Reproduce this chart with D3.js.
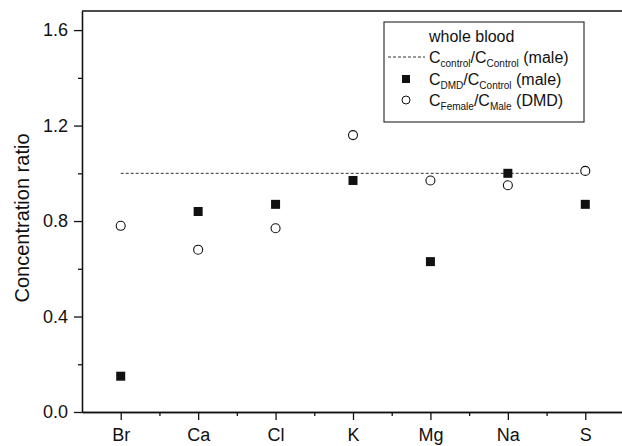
<!DOCTYPE html>
<html>
<head>
<meta charset="utf-8">
<script src="https://d3js.org/d3.v7.min.js"></script>
<style>
  body { margin: 0; background: #fff; }
  text { font-family: "Liberation Sans", Arial, Helvetica, sans-serif; fill: #111; }
</style>
</head>
<body>
<div id="chart"></div>
<script>
let w = 622;
let h = 446;

// data
let elements = ["Br", "Ca", "Cl", "K", "Mg", "Na", "S"];
let dmdVsControl = [0.15, 0.84, 0.87, 0.97, 0.63, 1.00, 0.87];
let femaleVsMale = [0.78, 0.68, 0.77, 1.16, 0.97, 0.95, 1.01];
let controlLevel = 1.0;
let yMajor = [0, 0.4, 0.8, 1.2, 1.6];
let yMinor = [0.2, 0.6, 1.0, 1.4];

let svg = d3.select("#chart")
  .append("svg")
  .attr("width", w)
  .attr("height", h);

let xScale = d3.scaleLinear().domain([0.5, 7.5]).range([82, 624]);
let yScale = d3.scaleLinear().domain([0, 1.68]).range([412, 11]);

let tickFont = "18px";

// y axis
let yAxis = d3.axisLeft(yScale)
  .tickValues(yMajor)
  .tickFormat(d3.format(".1f"))
  .tickSize(8)
  .tickSizeOuter(0)
  .tickPadding(6);
let yG = svg.append("g").attr("transform", "translate(82,0)").call(yAxis);
yG.selectAll("text").style("font-size", tickFont);

let yMinorAxis = d3.axisLeft(yScale).tickValues(yMinor).tickSize(4).tickSizeOuter(0).tickFormat("");
svg.append("g").attr("transform", "translate(82,0)").call(yMinorAxis);

// x axis
let xAxis = d3.axisBottom(xScale)
  .tickValues(d3.range(1, elements.length + 1))
  .tickFormat(i => elements[i - 1])
  .tickSize(8)
  .tickSizeOuter(0)
  .tickPadding(8);
let xG = svg.append("g").attr("transform", "translate(0,412)").call(xAxis);
xG.selectAll("text").style("font-size", tickFont);

let xMinorAxis = d3.axisBottom(xScale)
  .tickValues(d3.range(1.5, elements.length + 1, 1))
  .tickSize(4).tickSizeOuter(0).tickFormat("");
svg.append("g").attr("transform", "translate(0,412)").call(xMinorAxis);

svg.selectAll(".domain, .tick line").attr("stroke", "#111").attr("stroke-width", 1.3);

// frame top
svg.append("line")
  .attr("x1", xScale(0.5)).attr("x2", xScale(7.5))
  .attr("y1", yScale(1.68)).attr("y2", yScale(1.68))
  .attr("stroke", "#111").attr("stroke-width", 1.3);

// y label
svg.append("text")
  .attr("transform", "translate(29,218) rotate(-90)")
  .attr("text-anchor", "middle")
  .style("font-size", "20px")
  .text("Concentration ratio");

// reference line
svg.append("line")
  .attr("x1", xScale(1)).attr("x2", xScale(elements.length))
  .attr("y1", yScale(controlLevel)).attr("y2", yScale(controlLevel))
  .attr("stroke", "#333").attr("stroke-width", 1)
  .attr("stroke-dasharray", "3,2");

// squares
let sq = 9;
svg.selectAll(".dmd").data(dmdVsControl).enter()
  .append("rect")
  .attr("class", "dmd")
  .attr("x", (d, i) => xScale(i + 1) - sq / 2)
  .attr("y", d => yScale(d) - sq / 2)
  .attr("width", sq).attr("height", sq)
  .attr("fill", "#111");

// open circles
svg.selectAll(".fem").data(femaleVsMale).enter()
  .append("circle")
  .attr("class", "fem")
  .attr("cx", (d, i) => xScale(i + 1))
  .attr("cy", d => yScale(d))
  .attr("r", 4.5)
  .attr("fill", "#fff")
  .attr("stroke", "#111")
  .attr("stroke-width", 1.1);

// legend
let lg = svg.append("g");
lg.append("rect")
  .attr("x", 384).attr("y", 22)
  .attr("width", 200).attr("height", 100)
  .attr("fill", "#fff").attr("stroke", "#222").attr("stroke-width", 1.1);

lg.append("text").attr("x", 429).attr("y", 42).style("font-size", "16px").text("whole blood");

function legendText(y, parts) {
  let t = lg.append("text").attr("x", 429).attr("y", y).style("font-size", "16px");
  parts.forEach(p => {
    let s = t.append("tspan").text(p[0]);
    if (p[1] === "sub") s.style("font-size", "10px").attr("dy", 4);
    if (p[1] === "up") s.attr("dy", -4);
  });
}

lg.append("line").attr("x1", 388).attr("x2", 425).attr("y1", 57).attr("y2", 57)
  .attr("stroke", "#333").attr("stroke-dasharray", "3,2");
legendText(63, [["C"], ["control", "sub"], ["/C", "up"], ["Control", "sub"], [" (male)", "up"]]);

lg.append("rect").attr("x", 406 - 4).attr("y", 79 - 4).attr("width", 8).attr("height", 8).attr("fill", "#111");
legendText(85, [["C"], ["DMD", "sub"], ["/C", "up"], ["Control", "sub"], [" (male)", "up"]]);

lg.append("circle").attr("cx", 406).attr("cy", 100).attr("r", 4)
  .attr("fill", "#fff").attr("stroke", "#111");
legendText(106, [["C"], ["Female", "sub"], ["/C", "up"], ["Male", "sub"], [" (DMD)", "up"]]);
</script>
</body>
</html>
